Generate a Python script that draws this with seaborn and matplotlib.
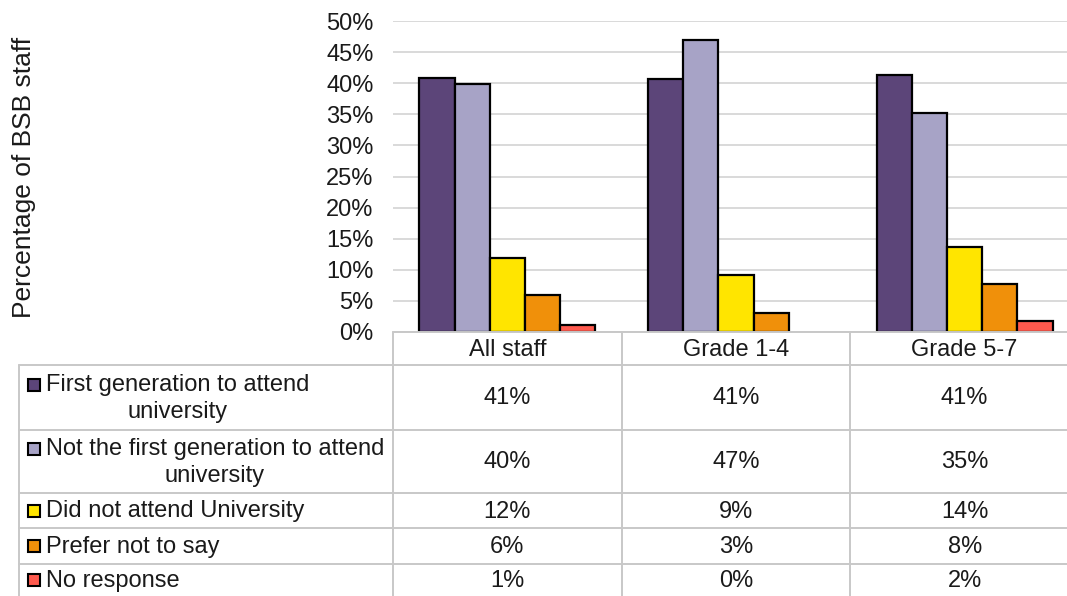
import matplotlib
matplotlib.use("Agg")
import matplotlib.pyplot as plt
import seaborn as sns
import pandas as pd
from matplotlib.patches import Rectangle
from matplotlib.ticker import PercentFormatter

# ---------------- data ----------------
categories = ["All staff", "Grade 1-4", "Grade 5-7"]
series = [
    "First generation to attend\nuniversity",
    "Not the first generation to attend\nuniversity",
    "Did not attend University",
    "Prefer not to say",
    "No response",
]
first_gen = [40.9, 40.6, 41.3]
not_first_gen = [39.9, 46.9, 35.2]
did_not_attend = [11.9, 9.2, 13.6]
prefer_not = [5.9, 3.0, 7.7]
no_response = [1.2, 0.0, 1.8]
values = [first_gen, not_first_gen, did_not_attend, prefer_not, no_response]
yticks = [0, 5, 10, 15, 20, 25, 30, 35, 40, 45, 50]
colors = ["#5C4579", "#A7A3C6", "#FFE500", "#F0900A", "#FF5A4E"]

rows = []
for s, vals in zip(series, values):
    for c, v in zip(categories, vals):
        rows.append({"category": c, "series": s, "value": v})
df = pd.DataFrame(rows)

# ---------------- figure ----------------
sns.set_theme(style="white")
plt.rcParams["font.family"] = ["Liberation Sans", "DejaVu Sans"]

W, H = 1067, 596
fig = plt.figure(figsize=(W / 100, H / 100), dpi=100)

ax_left = 393 / W
ax_bottom = (H - 332) / H
ax_top = (H - 21) / H
ax = fig.add_axes([ax_left, ax_bottom, 1 - ax_left, ax_top - ax_bottom])

sns.barplot(data=df, x="category", y="value", hue="series", palette=colors,
            width=0.77, edgecolor="black", linewidth=1.6, ax=ax,
            legend=False, saturation=1, errorbar=None, zorder=3)
for p in ax.patches:
    if p.get_height() == 0:
        p.set_visible(False)

col_w = 229.0
xmax = -0.5 + (W - 392) / col_w
ax.set_xlim(-0.5, xmax)
ax.set_ylim(0, 50)
ax.set_yticks(yticks)
ax.yaxis.set_major_formatter(PercentFormatter(decimals=0))
ax.tick_params(axis="y", length=0, pad=14, labelsize=17, colors="#1a1a1a")
ax.set_xticks([])
ax.set_xlabel("")
ax.set_ylabel("")
ax.grid(axis="y", color="#D9D9D9", linewidth=1.4, zorder=0)
for sp in ax.spines.values():
    sp.set_visible(False)

fig.text(24 / W, 1 - 177 / H, "Percentage of BSB staff", rotation=90,
         ha="center", va="center", fontsize=19, color="#1a1a1a")

# ---------------- data table ----------------
axt = fig.add_axes([ax_left, 0, 1 - ax_left, ax_bottom], sharex=ax)
axt.set_ylim(264, 0)
axt.axis("off")

line_c = "#C8C8C8"
row_edges = [0, 33, 98, 161, 196, 232, 264]
label_x = -0.5 + (17 - 392) / col_w
right_x = xmax

axt.plot([-0.5, right_x], [0, 0], color=line_c, lw=1.4, clip_on=False)
for y in row_edges[1:-1]:
    axt.plot([label_x, right_x], [y, y], color=line_c, lw=1.4, clip_on=False)
axt.plot([label_x, label_x], [row_edges[1], 264], color=line_c, lw=1.4, clip_on=False)
for i in range(len(categories)):
    x = i - 0.5
    axt.plot([x, x], [0, 264], color=line_c, lw=1.4, clip_on=False)

txt_c = "#1a1a1a"
fs = 17
for i, c in enumerate(categories):
    axt.text(i, (row_edges[0] + row_edges[1]) / 2 + 1, c, ha="center",
             va="center", fontsize=fs, color=txt_c)

key_x0 = -0.5 + (26 - 392) / col_w
key_w = 12 / col_w
text_x = -0.5 + (44 - 392) / col_w
for r, (s, vals, col) in enumerate(zip(series, values, colors)):
    y0, y1 = row_edges[r + 1], row_edges[r + 2]
    yc = (y0 + y1) / 2
    nlines = s.count("\n") + 1
    axt.text(text_x, yc + 1, s, ha="left", va="center", multialignment="center",
             fontsize=fs, color=txt_c, linespacing=1.3, clip_on=False)
    ky = yc - (13 if nlines == 2 else 0)
    axt.add_patch(Rectangle((key_x0, ky - 6), key_w, 12, facecolor=col,
                            edgecolor="black", lw=1.5, clip_on=False))
    for i, v in enumerate(vals):
        axt.text(i, yc + 1, f"{v:.0f}%", ha="center", va="center",
                 fontsize=fs, color=txt_c)

fig.savefig("out.png", dpi=100)
